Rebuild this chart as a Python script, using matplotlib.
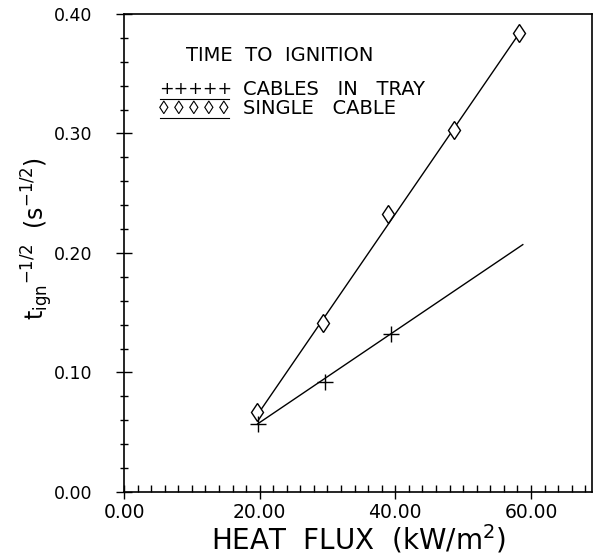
import matplotlib.pyplot as plt
from matplotlib.ticker import MultipleLocator, FormatStrFormatter

# values
flux_tray = [19.7, 29.7, 39.3]
tig_tray = [0.057, 0.092, 0.132]
flux_single = [19.6, 29.3, 38.9, 48.6, 58.3]
tig_single = [0.067, 0.141, 0.233, 0.303, 0.384]

# straight-line fits as drawn in the figure (end points)
fit_tray_x = [19.7, 58.8]
fit_tray_y = [0.057, 0.207]
fit_single_x = [19.6, 58.3]
fit_single_y = [0.064, 0.384]

plt.rcParams['font.family'] = ['DejaVu Sans']

fig = plt.figure(figsize=(5.94, 5.57), dpi=100)
ax = fig.add_axes([0.2088, 0.1167, 0.7878, 0.8582])

ax.plot(fit_single_x, fit_single_y, color='black', lw=1.0)
ax.plot(fit_tray_x, fit_tray_y, color='black', lw=1.0)
ax.plot(flux_single, tig_single, linestyle='none', marker='d', ms=9.5,
        mfc='white', mec='black', mew=1.0)
ax.plot(flux_tray, tig_tray, linestyle='none', marker='+', ms=11,
        color='black', mew=1.0)

ax.set_xlim(0, 69)
ax.set_ylim(0, 0.40)
ax.xaxis.set_minor_locator(MultipleLocator(2))
ax.yaxis.set_major_locator(MultipleLocator(0.1))
ax.yaxis.set_minor_locator(MultipleLocator(0.02))
ax.xaxis.set_major_formatter(FormatStrFormatter('%.2f'))
ax.yaxis.set_major_formatter(FormatStrFormatter('%.2f'))
ax.set_xticks([0, 20, 40, 60])

ax.tick_params(axis='x', which='major', direction='inout', length=10, width=1.0,
               labelsize=13.5, pad=3)
ax.tick_params(axis='x', which='minor', direction='in', length=5, width=1.0)
ax.tick_params(axis='y', which='major', direction='inout', length=12, width=1.0,
               labelsize=12.5, pad=17)
ax.tick_params(axis='y', which='minor', direction='inout', length=6, width=1.0)
for s in ax.spines.values():
    s.set_linewidth(1.2)

ax.set_xlabel('HEAT  FLUX  (kW/m$^2$)', fontsize=20, labelpad=0)
ax.set_ylabel(r't$_{\rm ign}$$^{-1/2}$  (s$^{-1/2}$)', fontsize=17)
ax.yaxis.set_label_coords(-0.148, 0.53)

# legend block
ax.text(0.333, 0.914, 'TIME  TO  IGNITION', transform=ax.transAxes,
        fontsize=14, ha='center', va='center')
ax.text(0.075, 0.843, '+++++', transform=ax.transAxes, fontsize=12.5,
        ha='left', va='center')
ax.text(0.255, 0.843, 'CABLES   IN   TRAY', transform=ax.transAxes, fontsize=14,
        ha='left', va='center')
ax.text(0.074, 0.801, '\u25ca \u25ca \u25ca \u25ca \u25ca', transform=ax.transAxes,
        fontsize=14, ha='left', va='center', family=['Liberation Sans', 'DejaVu Sans'])
ax.text(0.255, 0.803, 'SINGLE   CABLE', transform=ax.transAxes, fontsize=14,
        ha='left', va='center')
ax.plot([0.077, 0.225], [0.822, 0.822], transform=ax.transAxes, color='black', lw=0.8)
ax.plot([0.077, 0.225], [0.783, 0.783], transform=ax.transAxes, color='black', lw=0.8)

fig.savefig('out.png', dpi=100)
